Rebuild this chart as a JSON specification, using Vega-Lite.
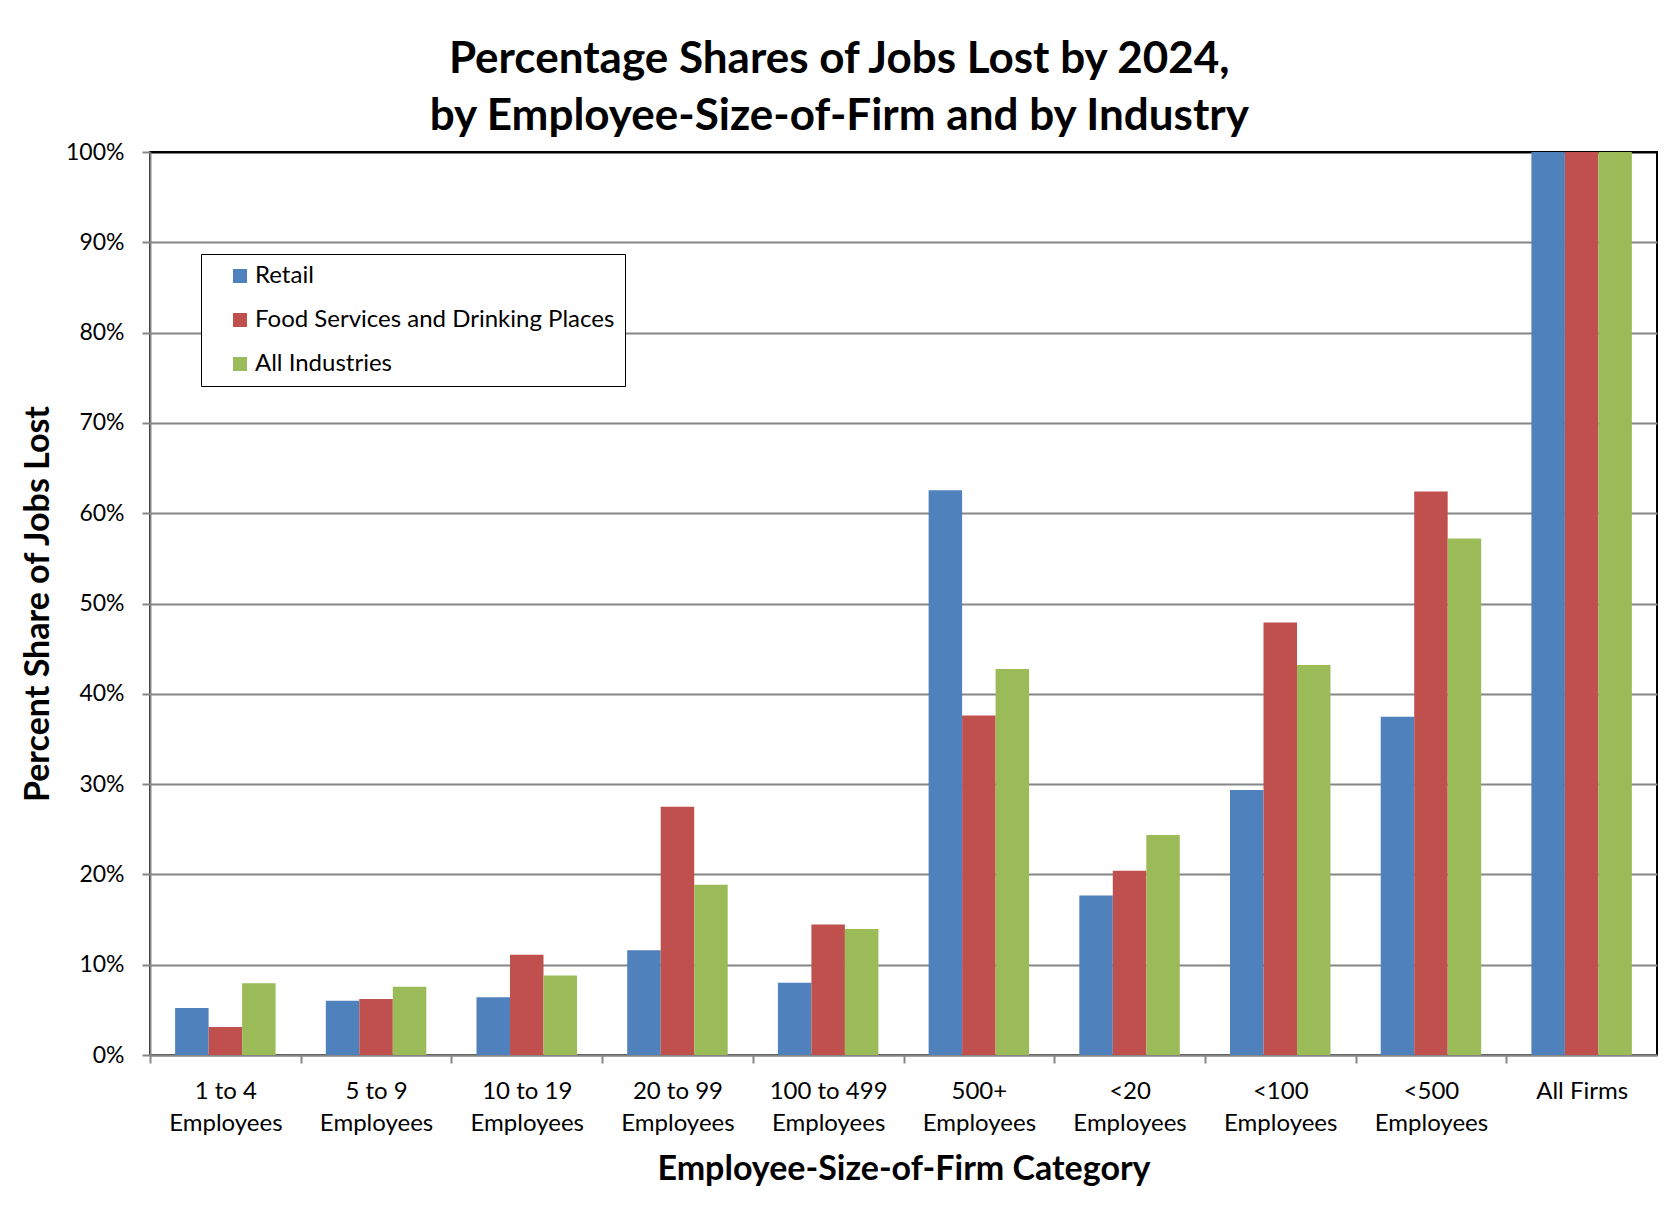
{
  "$schema": "https://vega.github.io/schema/vega-lite/v6.json",
  "autosize": {"type": "none"},
  "width": 1507,
  "height": 903,
  "padding": {"left": 150, "top": 152, "right": 22, "bottom": 154},
  "background": "white",
  "title": {
    "text": ["Percentage Shares of Jobs Lost by 2024,", "by Employee-Size-of-Firm and by Industry"],
    "font": "Lato",
    "fontSize": 44,
    "fontWeight": "bold",
    "color": "black",
    "lineHeight": 57,
    "anchor": "middle",
    "frame": "bounds",
    "offset": 2
  },
  "data": {
    "values": [
      {"category": "1 to 4 Employees", "industry": "Retail", "value": 5.2},
      {"category": "1 to 4 Employees", "industry": "Food Services and Drinking Places", "value": 3.1},
      {"category": "1 to 4 Employees", "industry": "All Industries", "value": 7.95},
      {"category": "5 to 9 Employees", "industry": "Retail", "value": 6.0},
      {"category": "5 to 9 Employees", "industry": "Food Services and Drinking Places", "value": 6.2},
      {"category": "5 to 9 Employees", "industry": "All Industries", "value": 7.55},
      {"category": "10 to 19 Employees", "industry": "Retail", "value": 6.4},
      {"category": "10 to 19 Employees", "industry": "Food Services and Drinking Places", "value": 11.1},
      {"category": "10 to 19 Employees", "industry": "All Industries", "value": 8.8},
      {"category": "20 to 99 Employees", "industry": "Retail", "value": 11.6},
      {"category": "20 to 99 Employees", "industry": "Food Services and Drinking Places", "value": 27.5},
      {"category": "20 to 99 Employees", "industry": "All Industries", "value": 18.85},
      {"category": "100 to 499 Employees", "industry": "Retail", "value": 8.0},
      {"category": "100 to 499 Employees", "industry": "Food Services and Drinking Places", "value": 14.45},
      {"category": "100 to 499 Employees", "industry": "All Industries", "value": 13.95},
      {"category": "500+ Employees", "industry": "Retail", "value": 62.55},
      {"category": "500+ Employees", "industry": "Food Services and Drinking Places", "value": 37.6},
      {"category": "500+ Employees", "industry": "All Industries", "value": 42.75},
      {"category": "<20 Employees", "industry": "Retail", "value": 17.65},
      {"category": "<20 Employees", "industry": "Food Services and Drinking Places", "value": 20.4},
      {"category": "<20 Employees", "industry": "All Industries", "value": 24.35},
      {"category": "<100 Employees", "industry": "Retail", "value": 29.35},
      {"category": "<100 Employees", "industry": "Food Services and Drinking Places", "value": 47.9},
      {"category": "<100 Employees", "industry": "All Industries", "value": 43.2},
      {"category": "<500 Employees", "industry": "Retail", "value": 37.45},
      {"category": "<500 Employees", "industry": "Food Services and Drinking Places", "value": 62.4},
      {"category": "<500 Employees", "industry": "All Industries", "value": 57.2},
      {"category": "All Firms", "industry": "Retail", "value": 100},
      {"category": "All Firms", "industry": "Food Services and Drinking Places", "value": 100},
      {"category": "All Firms", "industry": "All Industries", "value": 100}
    ]
  },
  "mark": {"type": "bar"},
  "encoding": {
    "x": {
      "field": "category",
      "type": "nominal",
      "sort": ["1 to 4 Employees", "5 to 9 Employees", "10 to 19 Employees", "20 to 99 Employees", "100 to 499 Employees", "500+ Employees", "<20 Employees", "<100 Employees", "<500 Employees", "All Firms"],
      "scale": {"paddingInner": 0.3333, "paddingOuter": 0.1667},
      "axis": {
        "title": "Employee-Size-of-Firm Category",
        "titleFont": "Lato",
        "titleFontSize": 34,
        "titleFontWeight": "bold",
        "titleColor": "black",
        "titlePadding": 17,
        "labelExpr": "datum.value == 'All Firms' ? 'All Firms' : [replace(datum.value, ' Employees', ''), 'Employees']",
        "labelAngle": 0,
        "labelFont": "Lato",
        "labelFontSize": 24,
        "labelColor": "black",
        "labelLineHeight": 32,
        "labelPadding": 16,
        "labelBaseline": "top",
        "bandPosition": 0,
        "tickOffset": -25.1,
        "labelOffset": 25.1,
        "tickSize": 8,
        "tickWidth": 2,
        "tickColor": "#868686",
        "domainColor": "#868686",
        "domainWidth": 2,
        "grid": false
      }
    },
    "xOffset": {
      "field": "industry",
      "type": "nominal",
      "sort": ["Retail", "Food Services and Drinking Places", "All Industries"],
      "scale": {"paddingInner": 0, "paddingOuter": 0}
    },
    "y": {
      "field": "value",
      "type": "quantitative",
      "scale": {"domain": [0, 100], "nice": false},
      "axis": {
        "title": "Percent Share of Jobs Lost",
        "titleFont": "Lato",
        "titleFontSize": 34,
        "titleFontWeight": "bold",
        "titleColor": "black",
        "titlePadding": 10,
        "values": [0, 10, 20, 30, 40, 50, 60, 70, 80, 90, 100],
        "labelExpr": "datum.value + '%'",
        "labelFont": "Lato",
        "labelFontSize": 23,
        "labelColor": "black",
        "labelPadding": 18,
        "tickSize": 8,
        "tickWidth": 2,
        "tickColor": "#868686",
        "domainColor": "#868686",
        "domainWidth": 2,
        "grid": true,
        "gridColor": {"condition": {"test": "datum.value === 100", "value": "black"}, "value": "#868686"},
        "gridWidth": 2
      }
    },
    "color": {
      "field": "industry",
      "type": "nominal",
      "scale": {
        "domain": ["Retail", "Food Services and Drinking Places", "All Industries"],
        "range": ["#4F81BD", "#C0504D", "#9BBB59"]
      },
      "legend": {
        "title": null,
        "orient": "none",
        "legendX": 51,
        "legendY": 102,
        "strokeColor": "black",
        "fillColor": "white",
        "padding": 10,
        "symbolType": "square",
        "symbolSize": 196,
        "symbolStrokeWidth": 0,
        "symbolOffset": 17,
        "labelFont": "Lato",
        "labelFontSize": 24,
        "labelColor": "black",
        "labelLimit": 700,
        "labelOffset": 3,
        "rowPadding": 20,
        "labelExpr": "datum.label + '\u00a0\u00a0\u00a0\u00a0\u00a0'"
      }
    }
  },
  "config": {
    "view": {"stroke": "black", "strokeWidth": 2},
    "font": "Lato"
  }
}
